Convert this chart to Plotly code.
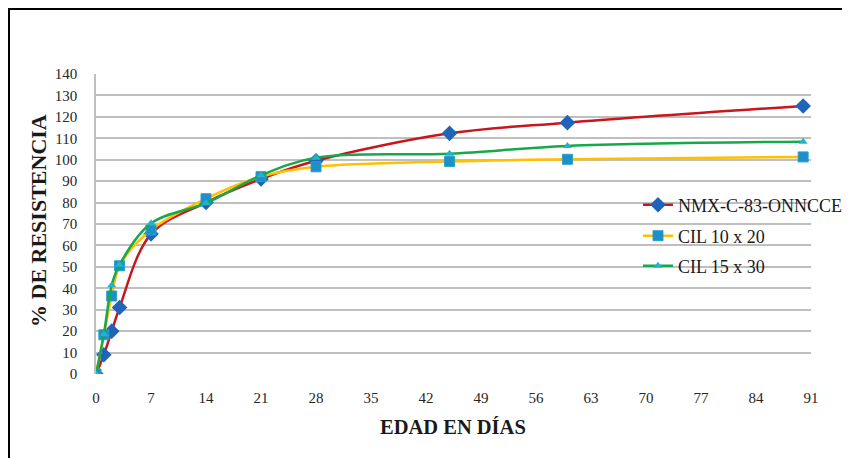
import plotly.graph_objects as go

days_nmx = [0, 1, 2, 3, 7, 14, 21, 28, 45, 60, 90]
nmx = [0, 9, 20, 31, 65.3, 80, 91, 99.5, 112.3, 117.3, 125.1]

days_c10 = [0, 1, 2, 3, 7, 14, 21, 28, 45, 60, 90]
cil10 = [0, 18.3, 36.4, 50.5, 67.2, 81.8, 92.1, 96.7, 99.2, 100.2, 101.3]

days_c15 = [0, 1, 2, 3, 7, 14, 21, 28, 45, 60, 90]
cil15 = [0, 18.5, 41.4, 51, 70.3, 79.7, 92.7, 100.9, 102.8, 106.4, 108.4]

names = ["NMX-C-83-ONNCCE", "CIL 10 x 20", "CIL 15 x 30"]
x_ticks = list(range(0, 92, 7))
y_ticks = list(range(0, 141, 10))

FONT = "Liberation Serif"

fig = go.Figure()
fig.add_trace(go.Scatter(
    x=days_nmx, y=nmx, name=names[0], mode="lines+markers", legend="legend",
    line=dict(color="#C8161D", width=2.5, shape="spline", smoothing=1.0),
    marker=dict(symbol="diamond", size=12, color="#1F64B9",
                line=dict(color="#1F64B9", width=0)),
))
fig.add_trace(go.Scatter(
    x=days_c10, y=cil10, name=names[1], mode="lines+markers", legend="legend2",
    line=dict(color="#FFC000", width=2.5, shape="spline", smoothing=1.0),
    marker=dict(symbol="square", size=10, color="#1E8FC8",
                line=dict(color="#2AA0C8", width=1)),
))
fig.add_trace(go.Scatter(
    x=days_c15, y=cil15, name=names[2], mode="lines+markers", legend="legend3",
    line=dict(color="#16A84A", width=2.5, shape="spline", smoothing=1.0),
    marker=dict(symbol="triangle-up", size=8, color="#21B4CC",
                line=dict(color="#21B4CC", width=0)),
))

OFF = 8  # page offset of the figure inside the browser
W, H = 850, 458
L = 96 - OFF
T = 74 - OFF
R = W - (811 - OFF)
B = H - (374 - OFF)
pw, ph = W - L - R, H - T - B

def px_x(px):
    return (px - OFF - L) / pw

def px_y(py):
    return (H - B - (py - OFF)) / ph

def leg(py):
    return dict(
        x=px_x(638), y=px_y(py), xanchor="left", yanchor="middle",
        bgcolor="rgba(0,0,0,0)", font=dict(size=18, family=FONT, color="#1a1a1a"),
        itemwidth=30,
    )

fig.update_layout(
    width=W, height=H,
    margin=dict(l=L, r=R, t=T, b=B, autoexpand=False),
    paper_bgcolor="white", plot_bgcolor="white",
    font=dict(family=FONT, color="#262626", size=14),
    showlegend=True,
    legend=leg(205),
    legend2=leg(236),
    legend3=leg(266),
    xaxis=dict(
        range=[0, 91], tickvals=x_ticks, ticktext=[str(v) for v in x_ticks],
        showgrid=False, zeroline=False, showline=False, ticks="",
        ticklabelstandoff=13, tickfont=dict(size=15, family=FONT),
        fixedrange=True,
    ),
    yaxis=dict(
        range=[0, 140], tickvals=y_ticks, ticktext=[str(v) for v in y_ticks],
        showgrid=True, gridcolor="#BFBFBF", gridwidth=1.5,
        zeroline=False, showline=True, linecolor="#BFBFBF", linewidth=1.5,
        ticks="", ticklabelstandoff=14, tickfont=dict(size=15, family=FONT),
        fixedrange=True,
    ),
    annotations=[
        dict(text="<b>% DE RESISTENCIA</b>", textangle=-90,
             x=px_x(38), y=px_y(221), xref="paper", yref="paper",
             xanchor="center", yanchor="middle", showarrow=False,
             font=dict(size=22, family=FONT, color="#1a1a1a")),
        dict(text="<b>EDAD EN DÍAS</b>",
             x=px_x(453), y=px_y(427), xref="paper", yref="paper",
             xanchor="center", yanchor="middle", showarrow=False,
             font=dict(size=20.5, family=FONT, color="#1a1a1a")),
    ],
    shapes=[
        dict(type="rect", xref="paper", yref="paper",
             x0=px_x(9), x1=px_x(900), y0=px_y(500), y1=px_y(9),
             line=dict(color="black", width=2), fillcolor="rgba(0,0,0,0)",
             layer="above"),
    ],
)

fig.write_html("out.html")
